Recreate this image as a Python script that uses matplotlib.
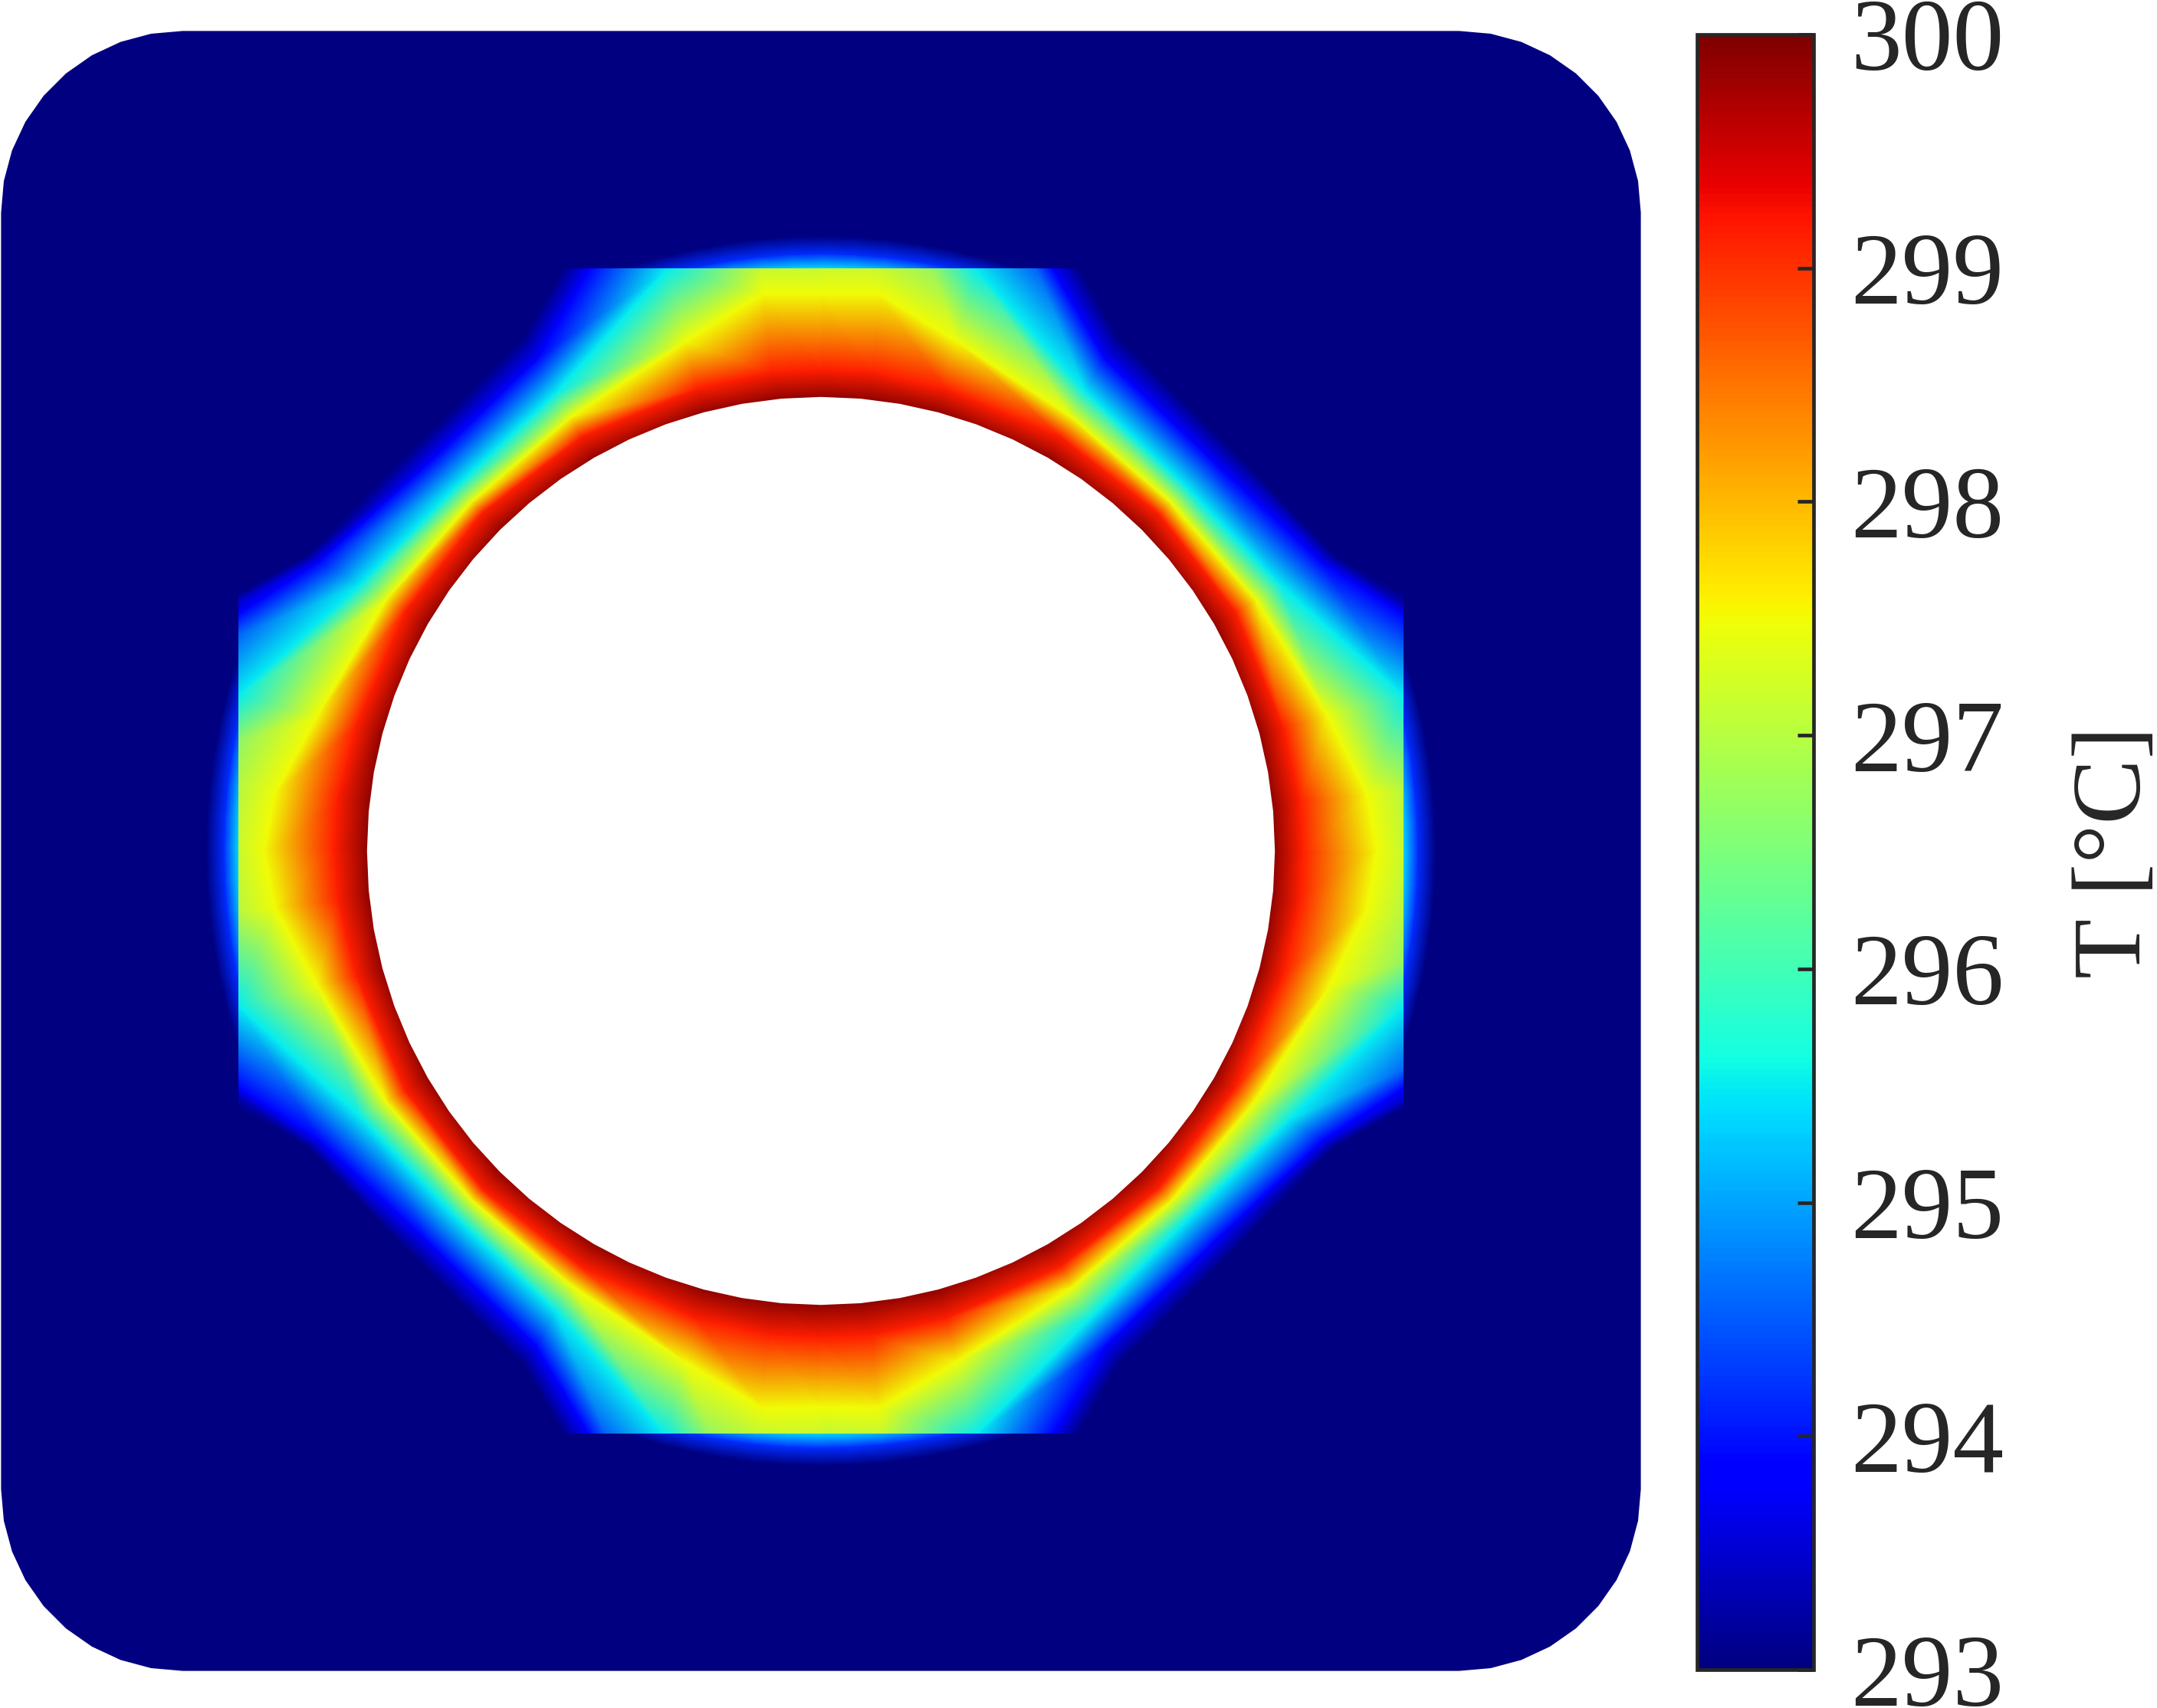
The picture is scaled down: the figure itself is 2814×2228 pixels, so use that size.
import numpy as np
import matplotlib
matplotlib.use('Agg')
import matplotlib.pyplot as plt
from matplotlib.patches import Polygon, Rectangle, RegularPolygon
from matplotlib.tri import Triangulation
from matplotlib.cm import ScalarMappable
from matplotlib.colors import Normalize

plt.rcParams['font.family'] = ['Liberation Serif', 'DejaVu Serif']

# isotherm distance from the hole centre, one value per spoke
spoke_deg = [0, 6, 15, 30, 45, 60, 75, 84,
             90, 96, 105, 120, 135, 150, 165, 174,
             180, 186, 195, 210, 225, 240, 255, 264,
             270, 276, 285, 300, 315, 330, 345, 354]
r_wall = [327] * 32
r_red = [350, 350, 348, 348, 347, 348, 348, 350,
         350, 350, 348, 348, 348, 349, 350, 354,
         354, 353, 350, 349, 348, 349, 352, 354,
         354, 354, 352, 349, 347, 347, 348, 350]
r_yellow = [404, 399, 381, 365, 359, 364, 383, 407,
            405, 407, 383, 364, 359, 365, 379, 399,
            405, 399, 379, 365, 359, 364, 384, 407,
            404, 407, 384, 366, 360, 364, 382, 399]
r_cyan = [520, 510, 438, 386, 375, 385, 437, 510,
          520, 510, 437, 385, 375, 387, 438, 510,
          520, 510, 438, 387, 376, 386, 439, 510,
          520, 510, 439, 392, 378, 392, 438, 510]
r_blue = [575, 560, 505, 420, 402, 413, 505, 560,
          575, 560, 505, 413, 401, 421, 505, 560,
          575, 560, 505, 421, 403, 415, 505, 560,
          575, 560, 505, 415, 403, 421, 505, 560]
r_navy = [595, 580, 530, 431, 418, 432, 530, 580,
          595, 580, 530, 432, 417, 431, 530, 580,
          595, 580, 530, 431, 418, 432, 530, 580,
          595, 580, 530, 432, 418, 431, 530, 580]
r_far = [650] * 32
ring_temps = [300, 299.15, 297.5, 295.5, 293.77, 293, 293]

# weak field outside the square patch
glow_r = [415, 424, 434, 447]
glow_temps = [296, 295.3, 294.2, 293]

hole_r = 330
hole_sides = 72
patch_half = 423.5
plate_half = 596
corner_r = 132

cbar_ticks = [293, 294, 295, 296, 297, 298, 299, 300]
vmin, vmax = 293, 300
dark = '#262626'

SCALE = 2814 / 1568
W, H = 2814, 2228
CX, CY = 1071, 1110


def ring_mesh(angles, radii):
    n_ang, n_ring = len(angles), len(radii)
    x = np.outer(radii, np.cos(angles)).ravel()
    y = np.outer(radii, np.sin(angles)).ravel()
    tris = []
    for i in range(n_ring - 1):
        for j in range(n_ang):
            a = i * n_ang + j
            b = i * n_ang + (j + 1) % n_ang
            c = a + n_ang
            d = b + n_ang
            tris.append([a, b, d])
            tris.append([a, d, c])
    return Triangulation(x, y, np.array(tris))


fig = plt.figure(figsize=(W / 100, H / 100), dpi=100)
ax = fig.add_axes([0, 0, 1, 1])
ax.set_xlim(-CX / SCALE, (W - CX) / SCALE)
ax.set_ylim(-(H - CY) / SCALE, CY / SCALE)
ax.axis('off')
cmap = plt.get_cmap('jet')

# plate with rounded corners
pts = []
for (sx, sy, start) in [(1, 1, 0), (-1, 1, 90), (-1, -1, 180), (1, -1, 270)]:
    t = np.radians(np.linspace(start, start + 90, 10))
    pts += list(zip(sx * (plate_half - corner_r) + corner_r * np.cos(t),
                    sy * (plate_half - corner_r) + corner_r * np.sin(t)))
ax.add_patch(Polygon(pts, closed=True, fc=cmap(0.0), ec='none', zorder=1))

# glow just outside the patch
glow_ang = np.radians(np.arange(0, 360, 3))
tri = ring_mesh(glow_ang, glow_r)
ax.tripcolor(tri, np.repeat(glow_temps, len(glow_ang)), shading='gouraud',
             cmap=cmap, vmin=vmin, vmax=vmax, zorder=2)

# main field, clipped to the square
radii = np.array([r_wall, r_red, r_yellow, r_cyan, r_blue, r_navy, r_far], dtype=float)
ang = np.radians(spoke_deg)
x = (radii * np.cos(ang)).ravel()
y = (radii * np.sin(ang)).ravel()
base = ring_mesh(ang, [1] * 7)
tri = Triangulation(x, y, base.triangles)
mesh = ax.tripcolor(tri, np.repeat(ring_temps, len(ang)), shading='gouraud',
                    cmap=cmap, vmin=vmin, vmax=vmax, zorder=3)
clip = Rectangle((-patch_half, -patch_half), 2 * patch_half, 2 * patch_half,
                 transform=ax.transData)
mesh.set_clip_path(clip)

ax.add_patch(RegularPolygon((0, 0), hole_sides, radius=hole_r, fc='white', ec='none', zorder=4))

# colorbar
cax = fig.add_axes([2213.5 / W, (H - 2178) / H, 152.5 / W, 2133 / H])
cb = fig.colorbar(ScalarMappable(Normalize(vmin, vmax), cmap), cax=cax)
cb.set_ticks(cbar_ticks)
cb.outline.set_linewidth(3.4)
cb.outline.set_edgecolor(dark)
cb.ax.tick_params(direction='in', length=15, width=3.4, color=dark,
                  labelsize=96, labelcolor=dark, pad=35)
cb.set_label('T [°C]', fontsize=92, color=dark, labelpad=64)

fig.savefig('out.png', dpi=100)
